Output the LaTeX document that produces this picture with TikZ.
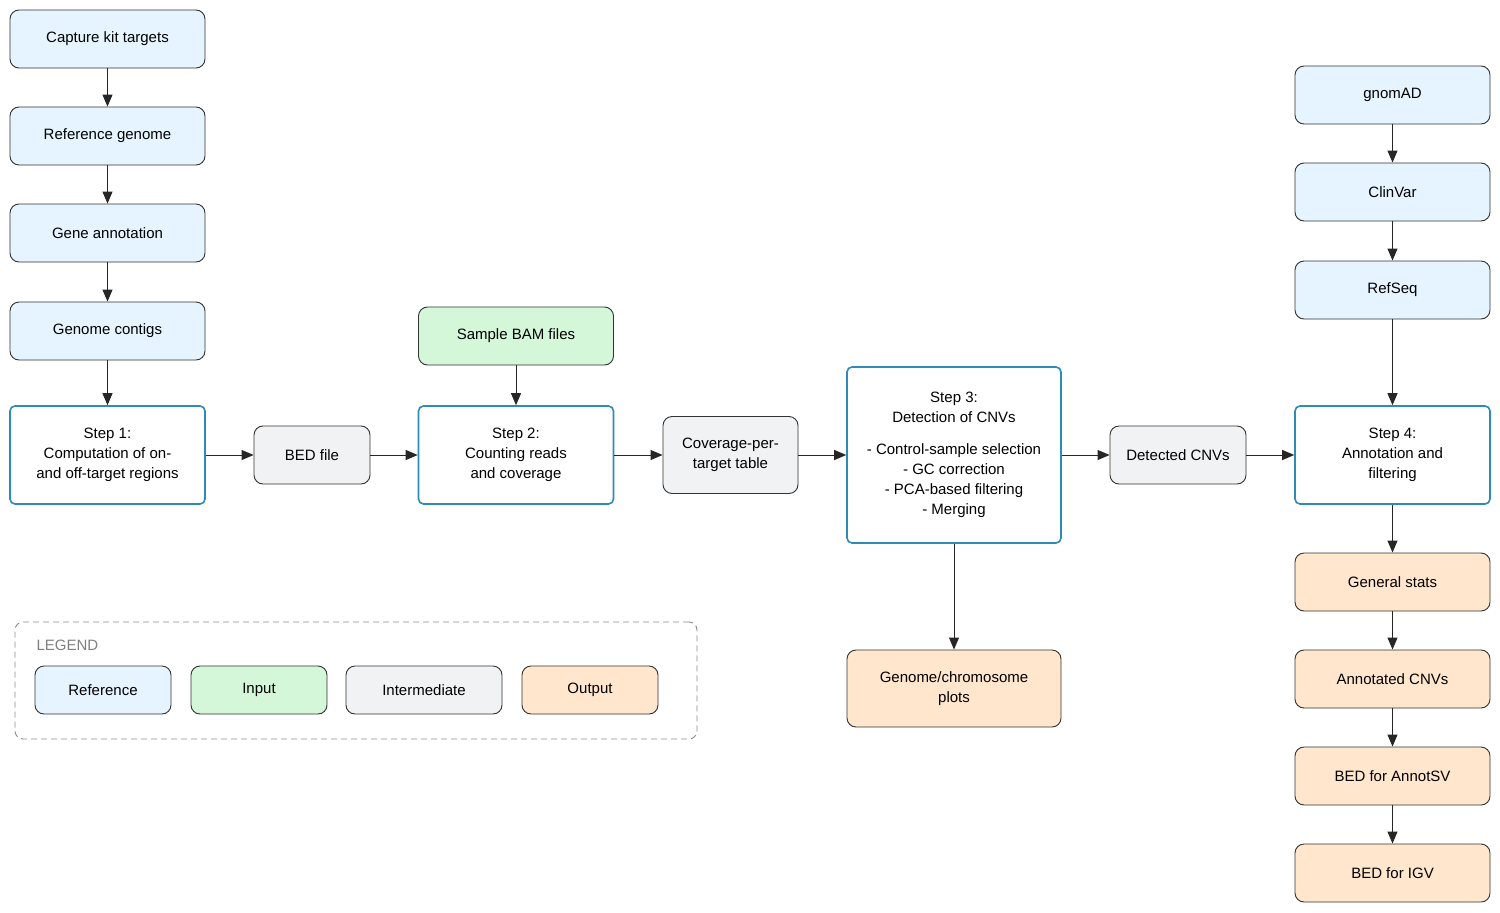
\documentclass[tikz,border=0pt]{standalone}
\usepackage{fontspec}
\setmainfont{Liberation Sans}
\usetikzlibrary{arrows.meta}
\definecolor{refc}{HTML}{E6F4FF}
\definecolor{inc}{HTML}{D4F7D9}
\definecolor{intc}{HTML}{F1F2F4}
\definecolor{outc}{HTML}{FFE6CC}
\definecolor{stepc}{HTML}{2E8BB5}
\definecolor{edgec}{HTML}{333333}
\begin{document}
\begin{tikzpicture}[x=1pt,y=-1pt,
 base/.style={rounded corners=9pt,align=center,font=\fontsize{15}{20}\selectfont,inner sep=2pt,line width=0.9pt,draw=edgec},
 refbox/.style={base,fill=refc,minimum width=195pt,minimum height=58pt},
 inbox/.style={base,fill=inc,minimum width=195pt,minimum height=58pt},
 intbox/.style={base,fill=intc,minimum height=58pt},
 outbox/.style={base,fill=outc,minimum width=195pt,minimum height=58pt},
 stepbox/.style={base,rounded corners=5pt,fill=white,draw=stepc,line width=1.6pt,minimum width=195pt,minimum height=98pt},
 arr/.style={-{Triangle[length=12pt,width=10pt]},line width=0.9pt,draw=black!85}]
\useasboundingbox[fill=white] (0,0) rectangle (1500,913);
\node[refbox] (cap) at (107.5,39) {Capture kit targets};
\node[refbox] (rg) at (107.5,136) {Reference genome};
\node[refbox] (ga) at (107.5,233) {Gene annotation};
\node[refbox] (gc) at (107.5,331) {Genome contigs};
\node[stepbox] (s1) at (107.5,455) {Step 1:\\Computation of on-\\and off-target regions};
\node[intbox,minimum width=116pt] (bed) at (312,455) {BED file};
\node[inbox] (bam) at (516,336) {Sample BAM files};
\node[stepbox] (s2) at (516,455) {Step 2:\\Counting reads\\and coverage};
\node[intbox,minimum width=135pt,minimum height=77pt] (cov) at (730.5,455) {Coverage-per-\\target table};
\node[stepbox,minimum width=214pt,minimum height=176pt] (s3) at (954,455) {Step 3:\\Detection of CNVs\\[12pt]- Control-sample selection\\- GC correction\\- PCA-based filtering\\- Merging};
\node[intbox,minimum width=136pt] (det) at (1178,455) {Detected CNVs};
\node[refbox] (gn) at (1392.5,95) {gnomAD};
\node[refbox] (cv) at (1392.5,192) {ClinVar};
\node[refbox] (rs) at (1392.5,290) {RefSeq};
\node[stepbox] (s4) at (1392.5,455) {Step 4:\\Annotation and\\filtering};
\node[outbox] (gs) at (1392.5,582) {General stats};
\node[outbox] (ac) at (1392.5,679) {Annotated CNVs};
\node[outbox] (ba) at (1392.5,776) {BED for AnnotSV};
\node[outbox] (bi) at (1392.5,873) {BED for IGV};
\node[outbox,minimum width=214pt,minimum height=77pt] (gp) at (954,688.5) {Genome/chromosome\\plots};
\draw[arr] (cap) -- (rg); \draw[arr] (rg) -- (ga); \draw[arr] (ga) -- (gc); \draw[arr] (gc) -- (s1);
\draw[arr] (s1) -- (bed); \draw[arr] (bed) -- (s2); \draw[arr] (bam) -- (s2);
\draw[arr] (s2) -- (cov); \draw[arr] (cov) -- (s3); \draw[arr] (s3) -- (det); \draw[arr] (det) -- (s4);
\draw[arr] (s3) -- (gp);
\draw[arr] (gn) -- (cv); \draw[arr] (cv) -- (rs); \draw[arr] (rs) -- (s4);
\draw[arr] (s4) -- (gs); \draw[arr] (gs) -- (ac); \draw[arr] (ac) -- (ba); \draw[arr] (ba) -- (bi);
\node[draw=black!45,dashed,dash pattern=on 6pt off 4pt,rounded corners=8pt,line width=0.9pt,minimum width=682pt,minimum height=117pt] (leg) at (356,680.5) {};
\node[anchor=west,text=black!50,font=\fontsize{15}{18}\selectfont] (legt) at (33,645) {LEGEND};
\node[base,fill=refc,minimum width=136pt,minimum height=48pt] (l1) at (103,690) {Reference};
\node[base,fill=inc,minimum width=136pt,minimum height=48pt] (l2) at (259,690) {Input};
\node[base,fill=intc,minimum width=156pt,minimum height=48pt] (l3) at (424,690) {Intermediate};
\node[base,fill=outc,minimum width=136pt,minimum height=48pt] (l4) at (590,690) {Output};
\end{tikzpicture}
\end{document}
